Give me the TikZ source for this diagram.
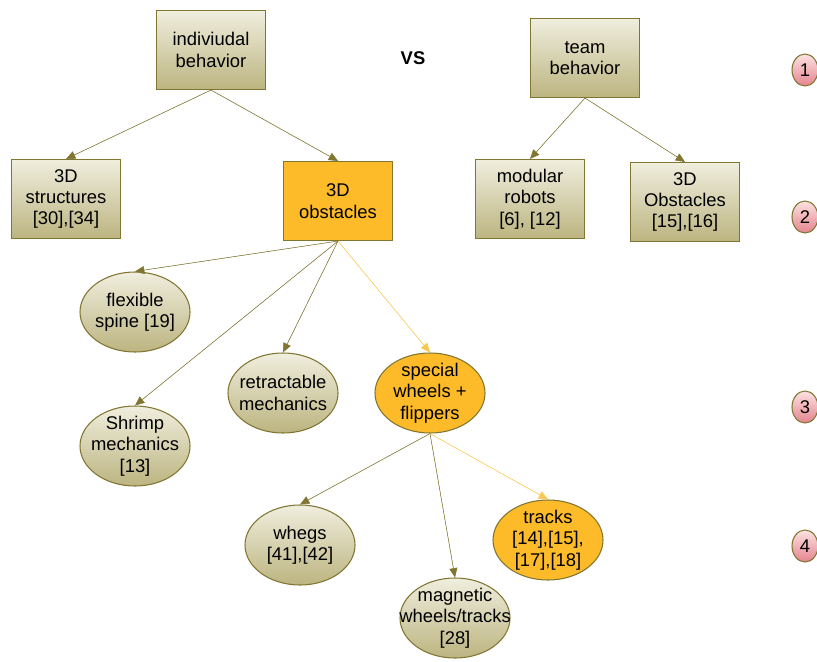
\documentclass[tikz,border=0pt]{standalone}
\usepackage{fontspec}
\setmainfont{Liberation Sans}
\usetikzlibrary{arrows.meta,shapes.geometric}
\definecolor{olive}{RGB}{128,118,50}
\definecolor{creamtop}{RGB}{240,238,222}
\definecolor{creambot}{RGB}{188,180,128}
\definecolor{gold}{RGB}{253,187,42}
\definecolor{goldline}{RGB}{250,200,80}
\definecolor{pinktop}{RGB}{252,226,226}
\definecolor{pinkbot}{RGB}{228,132,142}
\tikzset{
  >={Triangle[length=7pt,width=6pt]},
  box/.style={draw=olive,thick,rectangle,minimum width=109*0.75pt,minimum height=79*0.75pt,
    align=center,font=\fontsize{13.8}{16}\selectfont,inner sep=1pt,
    top color=creamtop,bottom color=creambot},
  hot box/.style={box,fill=gold,top color=gold,bottom color=gold},
  blob/.style={box,ellipse,inner xsep=-15pt,inner ysep=-8pt,
    minimum width=110*0.75pt,minimum height=80*0.75pt},
  hot blob/.style={blob,top color=gold,bottom color=gold},
  level/.style={ellipse,draw=olive,thick,minimum width=26*0.75pt,minimum height=32*0.75pt,
    inner sep=0pt,font=\fontsize{13.8}{16}\selectfont,top color=pinktop,bottom color=pinkbot},
  link/.style={->,draw=olive,fill=olive,thin},
  hot link/.style={->,draw=goldline,fill=goldline,thin},
}
\begin{document}
\begin{tikzpicture}[x=0.75pt,y=-0.75pt]
  \useasboundingbox (0,0) rectangle (817,661);
  % first row
  \node[box] (indiv) at (211,50) {indiviudal\\behavior};
  \node[font=\fontsize{13.8}{16}\selectfont\bfseries] (vs) at (413,58) {VS};
  \node[box] (team) at (585,58) {team\\behavior};
  % second row
  \node[box] (struct) at (66,199) {3D\\structures\\{[30],[34]}};
  \node[hot box] (obst) at (338,201) {3D\\obstacles};
  \node[box] (modular) at (530,199) {modular\\robots\\{[6], [12]}};
  \node[box] (obstb) at (685,202) {3D\\Obstacles\\{[15],[16]}};
  % third row
  \node[blob] (spine) at (135,312) {flexible\\spine [19]};
  \node[blob] (shrimp) at (135,446) {Shrimp\\mechanics\\{[13]}};
  \node[blob] (retract) at (283,393) {retractable\\mechanics};
  \node[hot blob] (wheels) at (430,393) {special\\wheels +\\flippers};
  % fourth row
  \node[blob] (whegs) at (300,545) {whegs\\{[41],[42]}};
  \node[blob] (magnet) at (455,618) {magnetic\\wheels/tracks\\{[28]}};
  \node[hot blob] (tracks) at (548,540) {tracks\\{[14],[15],}\\{[17],[18]}};
  % level markers
  \foreach \n/\y in {1/70,2/217,3/407,4/546}
    \node[level] (lvl\n) at (805,\y) {\n};
  % connectors
  \draw[link] (indiv.south) -- (struct.north);
  \draw[link] (indiv.south) -- (obst.north);
  \draw[link] (team.south) -- (modular.north);
  \draw[link] (team.south) -- (obstb.north);
  \draw[link] (obst.south) -- (spine.north);
  \draw[link] (obst.south) -- (shrimp.north);
  \draw[link] (obst.south) -- (retract.north);
  \draw[hot link] (obst.south) -- (wheels.north);
  \draw[link] (wheels.south) -- (whegs.north);
  \draw[link] (wheels.south) -- (magnet.north);
  \draw[hot link] (wheels.south) -- (tracks.north);
\end{tikzpicture}
\end{document}
